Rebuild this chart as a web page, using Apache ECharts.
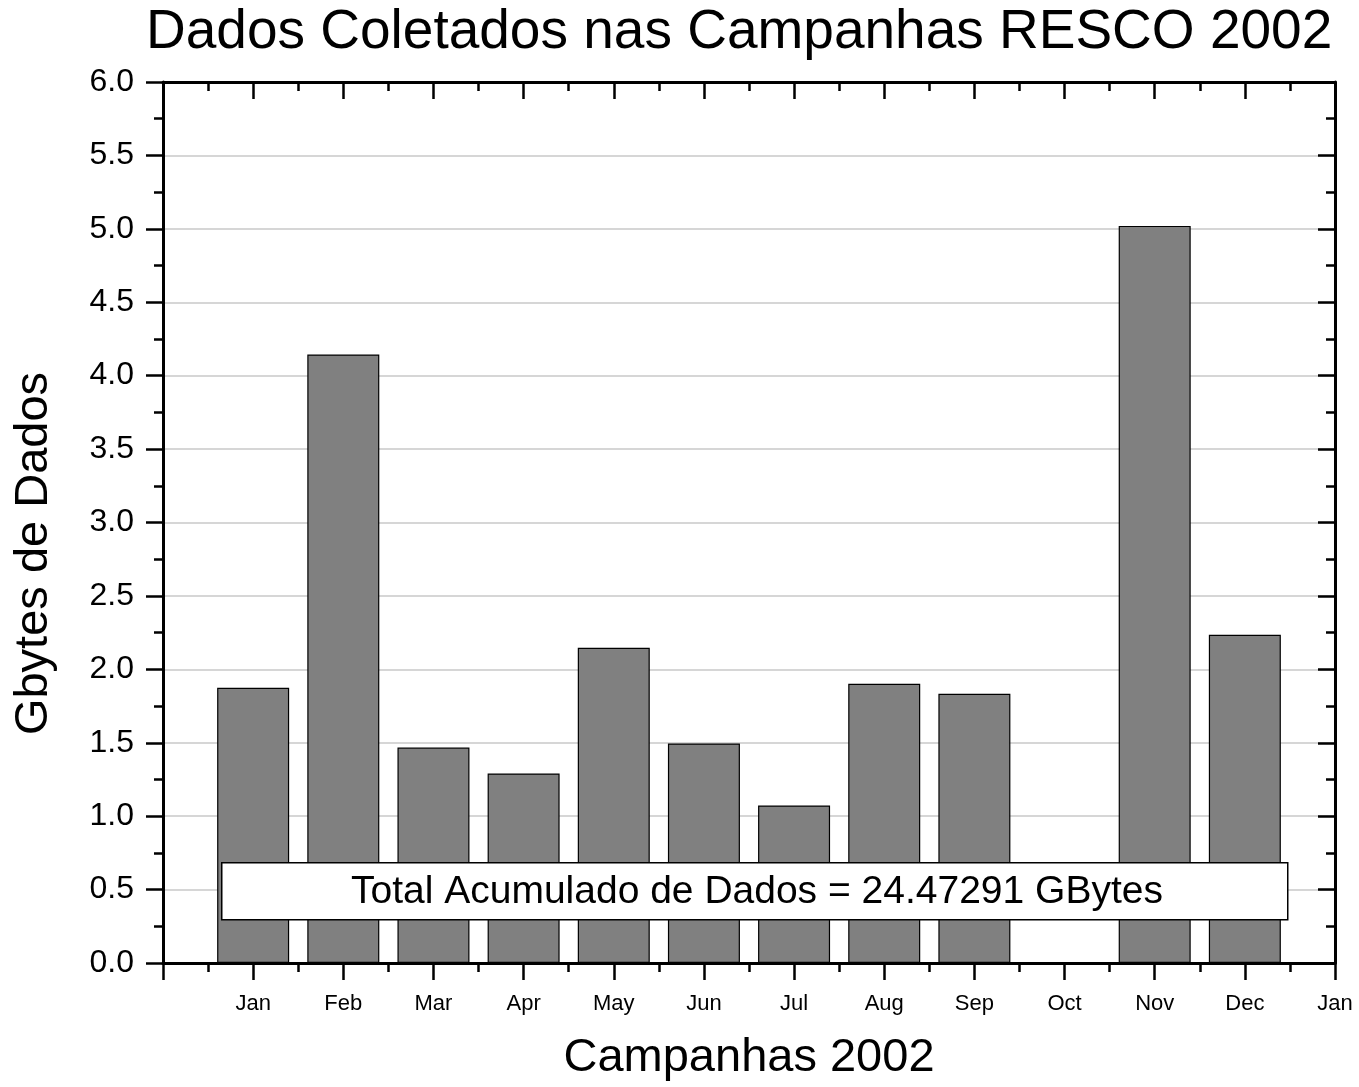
<!DOCTYPE html>
<html>
<head>
<meta charset="utf-8">
<script src="https://cdn.jsdelivr.net/npm/echarts@6/dist/echarts.min.js"></script>
<style>html,body{margin:0;padding:0;background:#fff}#c{width:1359px;height:1087px}</style>
</head>
<body>
<div id="c"></div>
<script>
const monthPositions = [1, 2, 3, 4, 5, 6, 7, 8, 9, 10, 11, 12];
const gbytes = [1.875, 4.144, 1.467, 1.291, 2.147, 1.495, 1.073, 1.902, 1.834, 0, 5.020, 2.235];
const xTickLabels = ['Jan','Feb','Mar','Apr','May','Jun','Jul','Aug','Sep','Oct','Nov','Dec','Jan'];
const titleText = 'Dados Coletados nas Campanhas RESCO 2002';
const noteText = 'Total Acumulado de Dados = 24.47291 GBytes';

const FONT = 'Liberation Sans, Arial, sans-serif';
const chart = echarts.init(document.getElementById('c'), null, {renderer: 'canvas'});
const lineStyle = {color: '#000', width: 3};
const tickStyle = {color: '#000', width: 2.5};

chart.setOption({
  backgroundColor: '#fff',
  animation: false,
  title: {
    text: titleText, left: 141, top: 0,
    textStyle: {fontFamily: FONT, fontSize: 55, fontWeight: 'normal', color: '#000'}
  },
  grid: {left: 163, right: 24, top: 82, bottom: 122},
  xAxis: [{
    type: 'value', min: 0, max: 13, interval: 1, position: 'bottom',
    name: 'Campanhas 2002', nameLocation: 'middle', nameGap: 72,
    nameTextStyle: {fontFamily: FONT, fontSize: 47, color: '#000'},
    axisLine: {show: true, onZero: false, lineStyle: lineStyle},
    axisTick: {show: true, inside: false, length: 17, lineStyle: tickStyle},
    minorTick: {show: true, splitNumber: 2, length: 9, lineStyle: tickStyle},
    axisLabel: {margin: 30, fontFamily: FONT, fontSize: 22, color: '#000',
      formatter: v => (v >= 1 && v <= 13) ? xTickLabels[v - 1] : ''},
    splitLine: {show: false}
  }, {
    type: 'value', min: 0, max: 13, interval: 1, position: 'top',
    axisLine: {show: true, onZero: false, lineStyle: lineStyle},
    axisTick: {show: true, inside: true, length: 17, lineStyle: tickStyle},
    minorTick: {show: true, splitNumber: 2, length: 9, lineStyle: tickStyle},
    axisLabel: {show: false},
    splitLine: {show: false}
  }],
  yAxis: [{
    type: 'value', min: 0, max: 6, interval: 0.5, position: 'left',
    name: 'Gbytes de Dados', nameLocation: 'middle', nameGap: 105, nameRotate: 90,
    nameTextStyle: {fontFamily: FONT, fontSize: 47, color: '#000', padding: [0, 62, 0, 0]},
    axisLine: {show: true, onZero: false, lineStyle: lineStyle},
    axisTick: {show: true, inside: false, length: 17, lineStyle: tickStyle},
    minorTick: {show: true, splitNumber: 2, length: 9, lineStyle: tickStyle},
    axisLabel: {margin: 29, fontFamily: FONT, fontSize: 32, color: '#000',
      formatter: v => v.toFixed(1)},
    splitLine: {show: true, lineStyle: {color: '#c8c8c8', width: 1.5}}
  }, {
    type: 'value', min: 0, max: 6, interval: 0.5, position: 'right',
    axisLine: {show: true, onZero: false, lineStyle: lineStyle},
    axisTick: {show: true, inside: true, length: 17, lineStyle: tickStyle},
    minorTick: {show: true, splitNumber: 2, length: 9, lineStyle: tickStyle},
    axisLabel: {show: false},
    splitLine: {show: false}
  }],
  series: [{
    type: 'bar', xAxisIndex: 0, yAxisIndex: 0,
    barWidth: 72,
    itemStyle: {color: '#808080', borderColor: '#000', borderWidth: 1.2},
    data: monthPositions.map((m, i) => [m, gbytes[i]]),
    z: 2
  }],
  graphic: [{
    type: 'rect', left: 221, top: 862, z: 100, zlevel: 1,
    shape: {x: 0, y: 0, width: 1066, height: 57},
    style: {fill: '#fff', stroke: '#000', lineWidth: 1.5}
  }, {
    type: 'text', left: 351, top: 873, z: 101, zlevel: 1,
    style: {text: noteText, fontFamily: FONT, fontSize: 39, fill: '#000'}
  }]
});
</script>
</body>
</html>
